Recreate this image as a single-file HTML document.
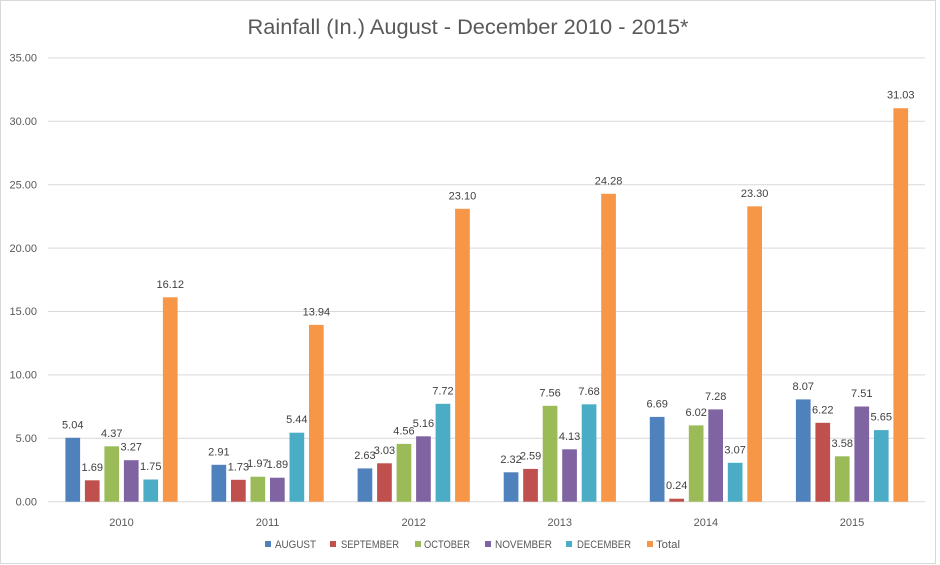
<!DOCTYPE html>
<html><head><meta charset="utf-8"><style>
html,body{margin:0;padding:0;background:#fff;}
svg{display:block;font-family:"Liberation Sans",sans-serif;}
.v{font-size:11px;fill:#404040;text-anchor:middle;}
.y{font-size:11px;fill:#595959;text-anchor:end;}
.x{font-size:11px;fill:#595959;text-anchor:middle;}
.l{font-size:11px;fill:#595959;}
</style></head><body>
<svg width="940" height="565" viewBox="0 0 940 565">
<rect x="0.5" y="0.5" width="935" height="563" fill="#fff" stroke="#d9d9d9"/>
<text x="468" y="34" font-size="21" fill="#595959" text-anchor="middle" textLength="441" lengthAdjust="spacingAndGlyphs">Rainfall (In.) August - December 2010 - 2015*</text>
<g stroke="#d9d9d9" stroke-width="1">
<line x1="48" x2="925" y1="57.9" y2="57.9"/><line x1="48" x2="925" y1="121.3" y2="121.3"/>
<line x1="48" x2="925" y1="184.7" y2="184.7"/><line x1="48" x2="925" y1="248.1" y2="248.1"/>
<line x1="48" x2="925" y1="311.5" y2="311.5"/><line x1="48" x2="925" y1="374.9" y2="374.9"/>
<line x1="48" x2="925" y1="438.3" y2="438.3"/><line x1="48" x2="925" y1="501.7" y2="501.7"/>
</g>
<g class="y">
<text x="37" y="61.5">35.00</text><text x="37" y="125">30.00</text><text x="37" y="188.5">25.00</text>
<text x="37" y="252">20.00</text><text x="37" y="315">15.00</text><text x="37" y="378.5">10.00</text>
<text x="37" y="442">5.00</text><text x="37" y="505.5">0.00</text>
</g>
<g class="x">
<text x="121.5" y="526">2010</text><text x="267.6" y="526">2011</text><text x="413.7" y="526">2012</text>
<text x="559.8" y="526">2013</text><text x="705.9" y="526">2014</text><text x="852" y="526">2015</text>
</g>

<g transform="translate(121.5,501.7)">
<rect x="-56.1" y="-63.9" width="14.7" height="63.9" fill="#4F81BD"/>
<rect x="-36.6" y="-21.4" width="14.7" height="21.4" fill="#C0504D"/>
<rect x="-17.1" y="-55.4" width="14.7" height="55.4" fill="#9BBB59"/>
<rect x="2.4" y="-41.5" width="14.7" height="41.5" fill="#8064A2"/>
<rect x="21.9" y="-22.2" width="14.7" height="22.2" fill="#4BACC6"/>
<rect x="41.4" y="-204.4" width="14.7" height="204.4" fill="#F79646"/>
<text class="v" x="-48.75" y="-73.4">5.04</text><text class="v" x="-29.25" y="-30.9">1.69</text>
<text class="v" x="-9.75" y="-64.9">4.37</text><text class="v" x="9.75" y="-51">3.27</text>
<text class="v" x="29.25" y="-31.7">1.75</text><text class="v" x="48.75" y="-213.9">16.12</text>
</g>
<g transform="translate(267.6,501.7)">
<rect x="-56.1" y="-36.9" width="14.7" height="36.9" fill="#4F81BD"/>
<rect x="-36.6" y="-21.9" width="14.7" height="21.9" fill="#C0504D"/>
<rect x="-17.1" y="-25" width="14.7" height="25" fill="#9BBB59"/>
<rect x="2.4" y="-24" width="14.7" height="24" fill="#8064A2"/>
<rect x="21.9" y="-69" width="14.7" height="69" fill="#4BACC6"/>
<rect x="41.4" y="-176.8" width="14.7" height="176.8" fill="#F79646"/>
<text class="v" x="-48.75" y="-46.4">2.91</text><text class="v" x="-29.25" y="-31.4">1.73</text>
<text class="v" x="-9.75" y="-34.5">1.97</text><text class="v" x="9.75" y="-33.5">1.89</text>
<text class="v" x="29.25" y="-78.5">5.44</text><text class="v" x="48.75" y="-186.3">13.94</text>
</g>
<g transform="translate(413.7,501.7)">
<rect x="-56.1" y="-33.3" width="14.7" height="33.3" fill="#4F81BD"/>
<rect x="-36.6" y="-38.4" width="14.7" height="38.4" fill="#C0504D"/>
<rect x="-17.1" y="-57.8" width="14.7" height="57.8" fill="#9BBB59"/>
<rect x="2.4" y="-65.4" width="14.7" height="65.4" fill="#8064A2"/>
<rect x="21.9" y="-97.9" width="14.7" height="97.9" fill="#4BACC6"/>
<rect x="41.4" y="-292.9" width="14.7" height="292.9" fill="#F79646"/>
<text class="v" x="-48.75" y="-42.8">2.63</text><text class="v" x="-29.25" y="-47.9">3.03</text>
<text class="v" x="-9.75" y="-67.3">4.56</text><text class="v" x="9.75" y="-74.9">5.16</text>
<text class="v" x="29.25" y="-107.4">7.72</text><text class="v" x="48.75" y="-302.4">23.10</text>
</g>
<g transform="translate(559.8,501.7)">
<rect x="-56.1" y="-29.4" width="14.7" height="29.4" fill="#4F81BD"/>
<rect x="-36.6" y="-32.8" width="14.7" height="32.8" fill="#C0504D"/>
<rect x="-17.1" y="-95.9" width="14.7" height="95.9" fill="#9BBB59"/>
<rect x="2.4" y="-52.4" width="14.7" height="52.4" fill="#8064A2"/>
<rect x="21.9" y="-97.4" width="14.7" height="97.4" fill="#4BACC6"/>
<rect x="41.4" y="-307.9" width="14.7" height="307.9" fill="#F79646"/>
<text class="v" x="-48.75" y="-38.9">2.32</text><text class="v" x="-29.25" y="-42.3">2.59</text>
<text class="v" x="-9.75" y="-105.4">7.56</text><text class="v" x="9.75" y="-61.9">4.13</text>
<text class="v" x="29.25" y="-106.9">7.68</text><text class="v" x="48.75" y="-317.4">24.28</text>
</g>
<g transform="translate(705.9,501.7)">
<rect x="-56.1" y="-84.8" width="14.7" height="84.8" fill="#4F81BD"/>
<rect x="-36.6" y="-3" width="14.7" height="3" fill="#C0504D"/>
<rect x="-17.1" y="-76.3" width="14.7" height="76.3" fill="#9BBB59"/>
<rect x="2.4" y="-92.3" width="14.7" height="92.3" fill="#8064A2"/>
<rect x="21.9" y="-38.9" width="14.7" height="38.9" fill="#4BACC6"/>
<rect x="41.4" y="-295.4" width="14.7" height="295.4" fill="#F79646"/>
<text class="v" x="-48.75" y="-94.3">6.69</text><text class="v" x="-29.25" y="-12.5">0.24</text>
<text class="v" x="-9.75" y="-85.8">6.02</text><text class="v" x="9.75" y="-101.8">7.28</text>
<text class="v" x="29.25" y="-48.4">3.07</text><text class="v" x="48.75" y="-304.9">23.30</text>
</g>
<g transform="translate(852,501.7)">
<rect x="-56.1" y="-102.3" width="14.7" height="102.3" fill="#4F81BD"/>
<rect x="-36.6" y="-78.9" width="14.7" height="78.9" fill="#C0504D"/>
<rect x="-17.1" y="-45.4" width="14.7" height="45.4" fill="#9BBB59"/>
<rect x="2.4" y="-95.2" width="14.7" height="95.2" fill="#8064A2"/>
<rect x="21.9" y="-71.6" width="14.7" height="71.6" fill="#4BACC6"/>
<rect x="41.4" y="-393.5" width="14.7" height="393.5" fill="#F79646"/>
<text class="v" x="-48.75" y="-111.8">8.07</text><text class="v" x="-29.25" y="-88.4">6.22</text>
<text class="v" x="-9.75" y="-54.9">3.58</text><text class="v" x="9.75" y="-104.7">7.51</text>
<text class="v" x="29.25" y="-81.1">5.65</text><text class="v" x="48.75" y="-403">31.03</text>
</g>

<g class="l">
<rect x="265" y="541" width="6" height="6" fill="#4F81BD"/><text x="275" y="548" textLength="41" lengthAdjust="spacingAndGlyphs">AUGUST</text>
<rect x="330" y="541" width="6" height="6" fill="#C0504D"/><text x="341" y="548" textLength="58" lengthAdjust="spacingAndGlyphs">SEPTEMBER</text>
<rect x="415" y="541" width="6" height="6" fill="#9BBB59"/><text x="424" y="548" textLength="46" lengthAdjust="spacingAndGlyphs">OCTOBER</text>
<rect x="485" y="541" width="6" height="6" fill="#8064A2"/><text x="495" y="548" textLength="57" lengthAdjust="spacingAndGlyphs">NOVEMBER</text>
<rect x="566" y="541" width="6" height="6" fill="#4BACC6"/><text x="577" y="548" textLength="54" lengthAdjust="spacingAndGlyphs">DECEMBER</text>
<rect x="647" y="541" width="6" height="6" fill="#F79646"/><text x="656" y="548" textLength="24" lengthAdjust="spacingAndGlyphs">Total</text>
</g>
</svg>
</body></html>
